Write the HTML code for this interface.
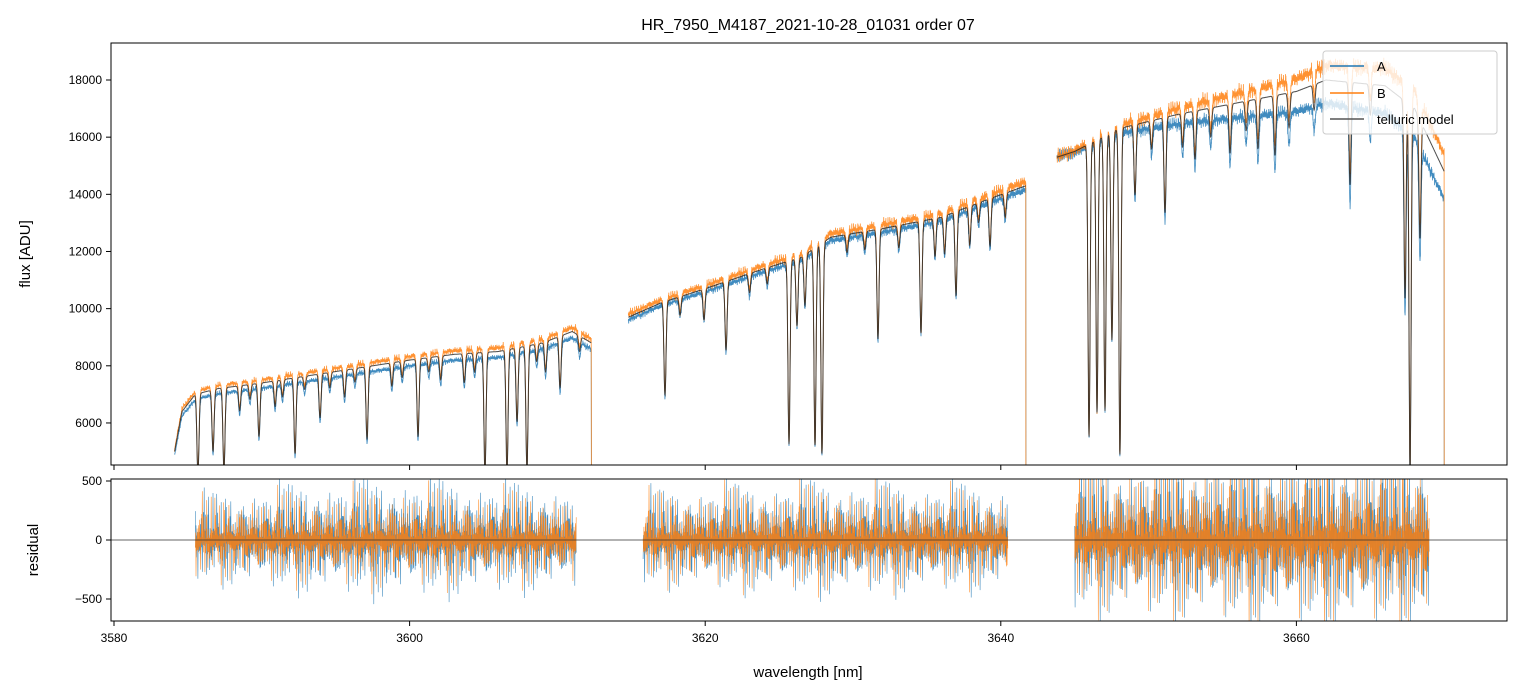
<!DOCTYPE html>
<html><head><meta charset="utf-8"><style>
html,body{margin:0;padding:0;background:#fff}
svg{display:block;font-family:"Liberation Sans","DejaVu Sans",sans-serif}
</style></head><body>
<svg id="chart" width="1520" height="696" viewBox="0 0 1520 696">
<defs>
<clipPath id="ctop"><rect x="111" y="43" width="1396" height="422"/></clipPath>
<clipPath id="cbot"><rect x="111" y="479" width="1396" height="142"/></clipPath>
</defs>
<rect width="1520" height="696" fill="#fff"/>
<text x="808" y="30" text-anchor="middle" font-size="16">HR_7950_M4187_2021-10-28_01031  order 07</text>
<g id="gtop" clip-path="url(#ctop)"></g>
<g id="gbot" clip-path="url(#cbot)"></g>
<g id="axes"></g>
<text x="30" y="254" transform="rotate(-90 30 254)" text-anchor="middle" font-size="15">flux [ADU]</text>
<text x="38" y="550" transform="rotate(-90 38 550)" text-anchor="middle" font-size="15">residual</text>
<text x="808" y="677" text-anchor="middle" font-size="15">wavelength [nm]</text>
<g>
<rect x="1323" y="51" width="174" height="83" rx="3" fill="#fff" fill-opacity="0.8" stroke="#ccc"/>
<line x1="1330" y1="66" x2="1364" y2="66" stroke="#1f77b4" stroke-width="1.5"/>
<text x="1377" y="71" font-size="13">A</text>
<line x1="1330" y1="93" x2="1364" y2="93" stroke="#ff7f0e" stroke-width="1.5"/>
<text x="1377" y="98" font-size="13">B</text>
<line x1="1330" y1="119" x2="1364" y2="119" stroke="#555" stroke-width="1.5"/>
<text x="1377" y="124" font-size="13">telluric model</text>
</g>
</svg>
<script>
const xTicks=[3580,3600,3620,3640,3660];
const yTicks=[6000,8000,10000,12000,14000,16000,18000];
const rTicks=[-500,0,500];
const seg1Cont=[[3584.1,5000],[3584.6,6400],[3585.5,7000],[3587,7200],[3590,7400],[3595,7800],[3600,8200],[3603,8400],[3606,8500],[3609,8800],[3611,9200],[3612.3,8800]];
const seg2Cont=[[3614.8,9700],[3617,10200],[3620,10700],[3624,11400],[3626.5,11800],[3628.5,12500],[3632,12800],[3636,13200],[3639,13800],[3641.7,14300]];
const seg3Cont=[[3643.8,15300],[3645,15500],[3648,16300],[3652,16800],[3656,17200],[3660,17600],[3662,18000],[3666,17800],[3668,17000],[3670,14800]];
const lineCenters=[3585.68,3586.70,3587.44,3589.81,3592.25,3593.94,3597.12,3600.57,3605.10,3606.59,3607.27,3607.94,3610.18,3588.5,3590.9,3595.6,3598.8,3602.1,3603.7,3609.2,
3589.2,3591.4,3592.9,3594.6,3596.3,3599.5,3601.3,3604.4,3608.6,3611.5,
3617.28,3619.92,3621.41,3625.67,3626.21,3626.75,3627.43,3627.90,3631.69,3634.60,3636.97,3639.27,3635.55,3636.2,3637.9,3618.3,3623.0,
3624.2,3629.6,3630.8,3633.1,3638.5,3640.3,
3645.97,3646.51,3647.05,3647.52,3648.06,3649.08,3651.11,3653.14,3655.51,3657.40,3658.55,3663.63,3667.35,3667.69,3668.36,
3650.2,3652.3,3654.2,3656.6,3659.5,3661.2,3665.0];
const lineDepths=[0.4,0.3,0.4,0.25,0.35,0.2,0.32,0.33,0.5,0.5,0.3,0.5,0.2,0.12,0.12,0.12,0.1,0.1,0.12,0.12,
0.07,0.08,0.06,0.07,0.06,0.07,0.06,0.08,0.07,0.06,
0.32,0.1,0.22,0.55,0.2,0.15,0.57,0.6,0.3,0.3,0.22,0.12,0.1,0.1,0.1,0.06,0.06,
0.05,0.05,0.05,0.06,0.05,0.06,
0.65,0.6,0.6,0.45,0.7,0.15,0.2,0.1,0.1,0.1,0.12,0.2,0.4,0.75,0.25,
0.06,0.07,0.06,0.06,0.07,0.05,0.06];
const scaleA=[[0.975,0.975],[0.99,0.99],[1.0,0.935]];
const scaleB=[[1.015,1.015],[1.01,1.01],[1.0,1.04]];
const resSeg=[[3585.5,3611.3],[3615.8,3640.5],[3645.0,3669.0]];
const resAmpA=[[320,400,450,420,380],[350,400,430,410,390],[560,600,660,680,660]];
const resAmpB=[[300,350,380,360,340],[340,380,400,380,350],[540,600,640,660,640]];

const X=v=>114+(v-3580)*14.78;
const Y=v=>80+(18000-v)*0.02858;
const R=v=>540-v*0.118;
const NS="http://www.w3.org/2000/svg";
function mk(tag,attrs,parent){const e=document.createElementNS(NS,tag);for(const k in attrs)e.setAttribute(k,attrs[k]);parent.appendChild(e);return e;}
const axes=document.getElementById('axes'),gTop=document.getElementById('gtop'),gBot=document.getElementById('gbot');
const pat=[1,-0.6,0.35,-0.9,0.7,-0.25,0.5,-0.75,0.15,-0.45,0.85,-0.3];
const pat2=[0.9,0.4,1.3,0.6,0.2,1.0,0.5,1.6,0.3,0.8,0.45,1.1,0.25,0.7,1.4,0.35,0.95];
function nz(k){return pat[k%pat.length]*pat2[k%pat2.length];}
function cont(seg,l){for(let i=0;i<seg.length-1;i++){if(l<=seg[i+1][0]){const t=(l-seg[i][0])/(seg[i+1][0]-seg[i][0]);return seg[i][1]+t*(seg[i+1][1]-seg[i][1]);}}return seg[seg.length-1][1];}
function trans(l){let f=1;for(let i=0;i<lineCenters.length;i++){const d=(l-lineCenters[i])/0.07;if(Math.abs(d)<5)f*=1-lineDepths[i]*Math.exp(-d*d/2);}return f;}
const segs=[seg1Cont,seg2Cont,seg3Cont];
let pA='',pB='',pM='';
segs.forEach((s,si)=>{const l0=s[0][0],l1=s[s.length-1][0];let k=si*5;
 let a='',b='',m='';
 for(let l=l0;l<=l1;l+=0.012,k++){const c=cont(s,l)*trans(l);const t=(l-l0)/(l1-l0);
  const sa=scaleA[si][0]+t*(scaleA[si][1]-scaleA[si][0]);const sb=scaleB[si][0]+t*(scaleB[si][1]-scaleB[si][0]);
  const na=nz(k)*c*0.011, nb=nz(k+7)*c*0.013;
  a+=(a?'L':'M')+X(l).toFixed(1)+' '+Y(c*sa+na).toFixed(1);
  b+=(b?'L':'M')+X(l).toFixed(1)+' '+Y(c*sb+nb).toFixed(1);
  m+=(m?'L':'M')+X(l).toFixed(1)+' '+Y(c).toFixed(1);}
 const drop='L'+X(l1).toFixed(1)+' '+Y(4000);
 pA+=a+drop;pB+=b+drop;pM+=m;});
let e=mk('path',{d:pA,fill:'none',stroke:'#1f77b4','stroke-width':0.8,opacity:0.85},gTop);


e=mk('path',{d:pB,fill:'none',stroke:'#ff7f0e','stroke-width':0.8,opacity:0.85},gTop);


e=mk('path',{d:pM,fill:'none',stroke:'#222','stroke-width':1,opacity:0.8},gTop);


[['A',resAmpA,'#1f77b4',0],['B',resAmpB,'#ff7f0e',5]].forEach(([nm,amps,col,off])=>{
 let d='';
 resSeg.forEach((rs,si)=>{let k=off+si*3;const am=amps[si];let first=true;
  for(let l=rs[0];l<=rs[1];l+=0.025,k++){const t=(l-rs[0])/(rs[1]-rs[0])*(am.length-1);const i=Math.min(am.length-2,Math.floor(t));const a=am[i]+(t-i)*(am[i+1]-am[i]);
   const v=nz(k)*a*0.85;
   d+=(first?'M':'L')+X(l).toFixed(1)+' '+R(v).toFixed(1);first=false;}});
 const p=mk('path',{d:d,fill:'none',stroke:col,'stroke-width':0.6,opacity:0.85},gBot);
 
 
});
mk('line',{x1:111,x2:1507,y1:R(0),y2:R(0),stroke:'#333','stroke-width':0.7},gBot);
mk('rect',{x:111,y:43,width:1396,height:422,fill:'none',stroke:'#000','stroke-width':1},axes);
mk('rect',{x:111,y:479,width:1396,height:142,fill:'none',stroke:'#000','stroke-width':1},axes);
xTicks.forEach(v=>{mk('line',{x1:X(v),x2:X(v),y1:465,y2:470,stroke:'#000'},axes);mk('line',{x1:X(v),x2:X(v),y1:621,y2:626,stroke:'#000'},axes);
 const t=mk('text',{x:X(v),y:642,'text-anchor':'middle','font-size':12},axes);t.textContent=v;
 
 });
yTicks.forEach(v=>{mk('line',{x1:106,x2:111,y1:Y(v),y2:Y(v),stroke:'#000'},axes);
 const t=mk('text',{x:102,y:Y(v)+4,'text-anchor':'end','font-size':12},axes);t.textContent=v;
 
 });
rTicks.forEach(v=>{mk('line',{x1:106,x2:111,y1:R(v),y2:R(v),stroke:'#000'},axes);
 const t=mk('text',{x:102,y:R(v)+4,'text-anchor':'end','font-size':12},axes);t.textContent=(v<0?'\u2212'+(-v):v);
 
 });
</script>
</body></html>
